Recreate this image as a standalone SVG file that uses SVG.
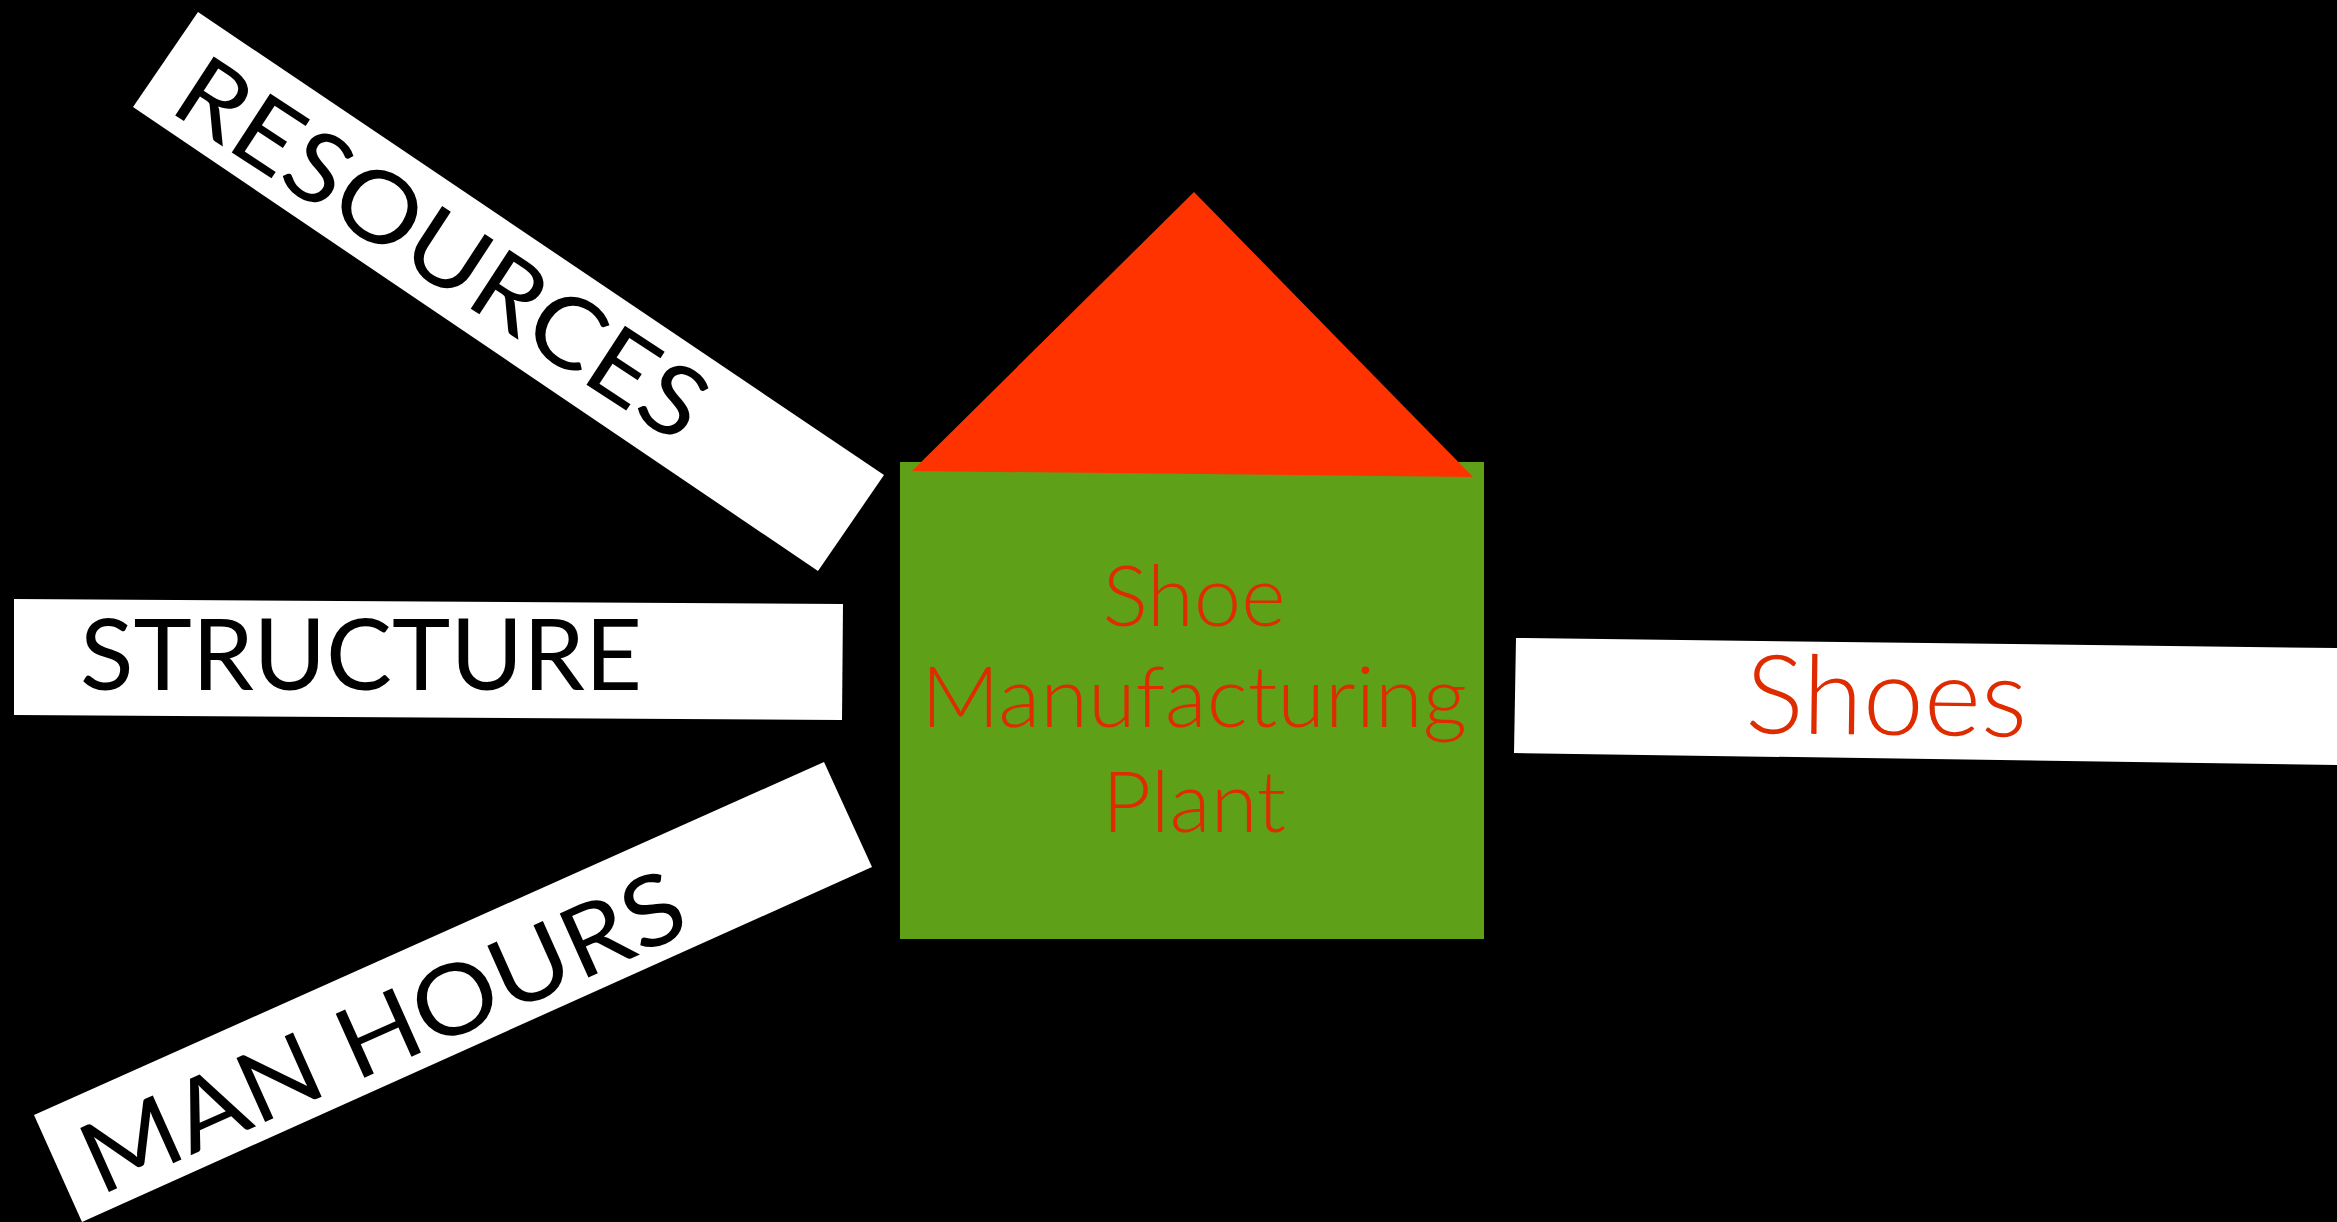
<svg xmlns="http://www.w3.org/2000/svg" width="2337" height="1222" viewBox="0 0 2337 1222">
<style>
.banner{fill:#fff}
.label{font-family:Lato,"Open Sans","Liberation Sans",sans-serif;fill:#000;font-size:98px;font-weight:400}
.red{font-family:Lato,"Open Sans","Liberation Sans",sans-serif;fill:#DE2C00;font-weight:300}
</style>
<rect width="2337" height="1222" fill="#000"/>
<g id="resources">
<polygon class="banner" points="198,12 884,475 818,571 133,107"/>
<text class="label" transform="translate(167,110) rotate(33.2)" textLength="612" lengthAdjust="spacingAndGlyphs">RESOURCES</text>
</g>
<g id="structure">
<polygon class="banner" points="14,599 843,604 842,720 14,715"/>
<text class="label" x="80" y="690" textLength="562" lengthAdjust="spacingAndGlyphs">STRUCTURE</text>
</g>
<g id="man-hours">
<polygon class="banner" points="34,1115 824,762 872,867 82,1222"/>
<text class="label" transform="translate(100,1196) rotate(-24.1)" textLength="650" lengthAdjust="spacingAndGlyphs">MAN HOURS</text>
</g>
<g id="plant">
<rect x="900" y="462" width="584" height="477" fill="#5FA019"/>
<polygon points="1194,192 1473,477 912,471" fill="#FF3300"/>
<text class="red" font-size="85" text-anchor="middle" x="1194" y="626">Shoe</text>
<text class="red" font-size="85" x="921" y="727" textLength="546" lengthAdjust="spacingAndGlyphs">Manufacturing</text>
<text class="red" font-size="85" text-anchor="middle" x="1194" y="832">Plant</text>
</g>
<g id="shoes">
<polygon class="banner" points="1516,638 2337,648 2337,765 1514,753"/>
<text class="red" font-size="110" font-style="normal" transform="translate(1745,733) rotate(.7)" textLength="282" lengthAdjust="spacingAndGlyphs">Shoes</text>
</g>
<g id="connectors"></g>
</svg>
